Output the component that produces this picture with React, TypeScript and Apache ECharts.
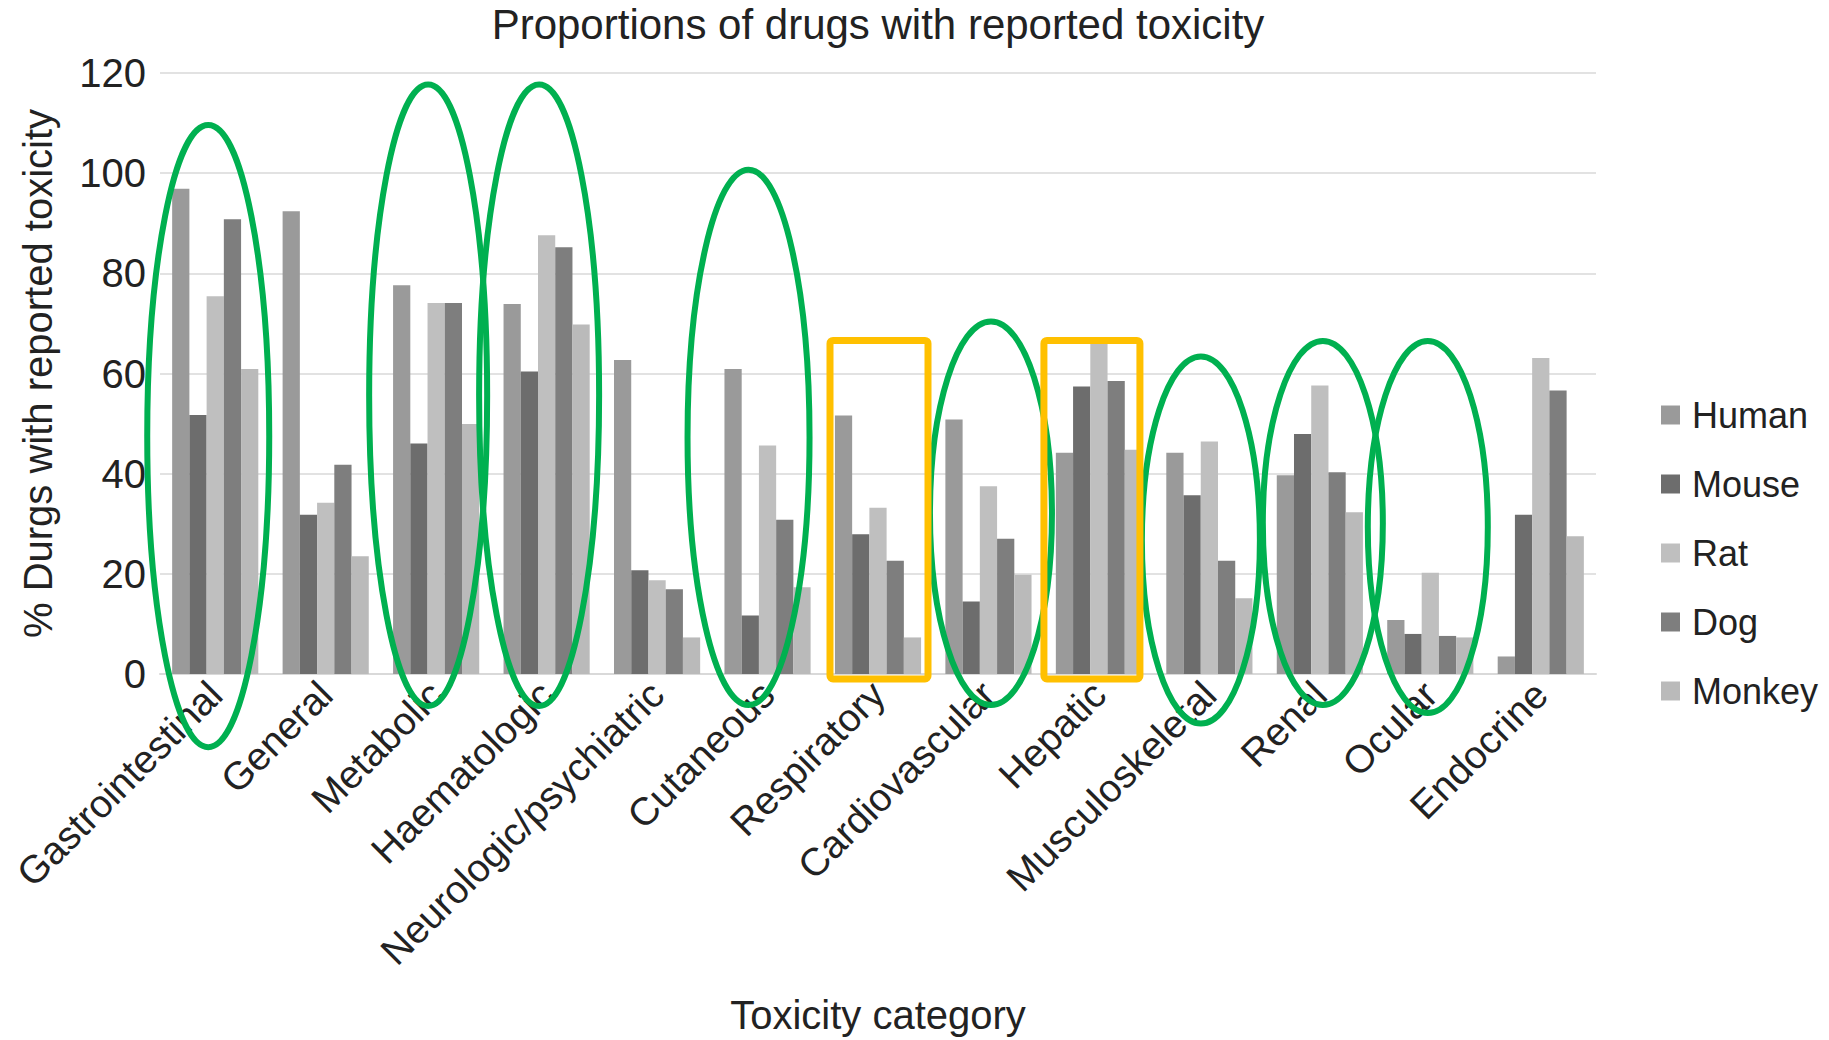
import React, { useEffect, useRef } from "react";
import * as echarts from "echarts";

const categories = [
  "Gastrointestinal", "General", "Metabolic", "Haematologic", "Neurologic/psychiatric",
  "Cutaneous", "Respiratory", "Cardiovascular", "Hepatic", "Musculoskeletal",
  "Renal", "Ocular", "Endocrine",
];
const human = [96.9, 92.4, 77.6, 73.9, 62.7, 60.9, 51.6, 50.8, 44.2, 44.2, 39.7, 10.8, 3.5];
const mouse = [51.7, 31.8, 46.0, 60.4, 20.7, 11.7, 27.9, 14.5, 57.4, 35.7, 47.9, 8.0, 31.8];
const rat = [75.4, 34.2, 74.1, 87.6, 18.7, 45.6, 33.2, 37.5, 66.3, 46.4, 57.6, 20.2, 63.1];
const dog = [90.8, 41.8, 74.1, 85.2, 16.9, 30.8, 22.6, 27.0, 58.5, 22.6, 40.3, 7.6, 56.6];
const monkey = [60.9, 23.5, 49.9, 69.8, 7.3, 17.3, 7.3, 19.8, 44.8, 15.1, 32.3, 7.3, 27.5];
const seriesNames = ["Human", "Mouse", "Rat", "Dog", "Monkey"];
const seriesData = [human, mouse, rat, dog, monkey];
const seriesColors = ["#9a9a9a", "#6d6d6d", "#bfbfbf", "#7e7e7e", "#bababa"];
const yTicks = [0, 20, 40, 60, 80, 100, 120];

// Annotation overlays: [category, xOffset(px), topValue, bottomValue, halfWidth(px)]
const ellipses: [string, number, number, number, number][] = [
  ["Gastrointestinal", -7, 110.2, -15.2, 61],
  ["Metabolic", -8, 118.3, -7.0, 59],
  ["Haematologic", -7.5, 118.3, -7.0, 60],
  ["Cutaneous", -19, 101.3, -6.8, 61],
  ["Cardiovascular", 2.5, 71.0, -6.8, 61],
  ["Musculoskeletal", -8.5, 64.0, -10.5, 59],
  ["Renal", 3, 67.1, -6.8, 60],
  ["Ocular", -2.5, 67.1, -8.4, 60],
];
// [category, leftOffset(px), rightOffset(px), topValue, bottomValue]
const boxes: [string, number, number, number, number][] = [
  ["Respiratory", -48, 50, 66.6, -1.0],
  ["Hepatic", -55, 41, 66.6, -1.0],
];

const FONT = "Liberation Sans, Arial, sans-serif";

export default function App() {
  const ref = useRef<HTMLDivElement>(null);
  useEffect(() => {
    if (!ref.current) return;
    const chart = echarts.init(ref.current, undefined, { renderer: "svg" });
    chart.setOption({
      animation: false,
      backgroundColor: "#ffffff",
      title: {
        text: "Proportions of drugs with reported toxicity",
        left: 878,
        textAlign: "center",
        top: 3,
        padding: 0,
        textStyle: { fontFamily: FONT, fontSize: 42, fontWeight: "normal", color: "#222" },
      },
      legend: {
        orient: "vertical",
        left: 1656,
        top: 392,
        itemWidth: 19,
        itemHeight: 19,
        itemGap: 33,
        icon: "rect",
        data: seriesNames,
        textStyle: { fontFamily: FONT, fontSize: 36, color: "#222", lineHeight: 36, padding: [0, 0, 0, 7] },
      },
      grid: { left: 160, right: 233, top: 73, bottom: 366, containLabel: false },
      xAxis: {
        type: "category",
        data: categories,
        name: "Toxicity category",
        nameLocation: "middle",
        nameGap: 321,
        nameTextStyle: { fontFamily: FONT, fontSize: 40, color: "#222" },
        axisTick: { show: false },
        axisLine: { lineStyle: { color: "#d9d9d9", width: 2 } },
        axisLabel: {
          rotate: 45,
          interval: 0,
          fontFamily: FONT,
          fontSize: 39,
          color: "#222",
          margin: 14,
        },
      },
      yAxis: {
        type: "value",
        min: 0,
        max: 120,
        interval: 20,
        name: "% Durgs with reported toxicity",
        nameLocation: "middle",
        nameGap: 102,
        nameTextStyle: { fontFamily: FONT, fontSize: 40, color: "#222" },
        axisLine: { show: false },
        axisTick: { show: false },
        axisLabel: {
          fontFamily: FONT,
          fontSize: 40,
          color: "#222",
          margin: 14,
          formatter: (v: number) => (yTicks.includes(v) ? String(v) : ""),
        },
        splitLine: { lineStyle: { color: "#e2e2e2", width: 2 } },
      },
      series: seriesNames.map((name, i) => ({
        name,
        type: "bar",
        data: seriesData[i],
        barGap: "0%",
        barCategoryGap: "22%",
        itemStyle: { color: seriesColors[i] },
        emphasis: { disabled: true },
      })),
    });

    const graphics: any[] = [];
    ellipses.forEach(([cat, dx, top, bottom, rx]) => {
      const cx = (chart.convertToPixel({ xAxisIndex: 0 }, cat) as number) + dx;
      const yTop = chart.convertToPixel({ yAxisIndex: 0 }, top) as number;
      const yBot = chart.convertToPixel({ yAxisIndex: 0 }, bottom) as number;
      graphics.push({
        type: "ellipse",
        shape: { cx, cy: (yTop + yBot) / 2, rx, ry: (yBot - yTop) / 2 - 3 },
        style: { fill: "none", stroke: "#00b050", lineWidth: 6 },
        z: 100,
      });
    });
    boxes.forEach(([cat, l, r, top, bottom]) => {
      const c = chart.convertToPixel({ xAxisIndex: 0 }, cat) as number;
      const yTop = chart.convertToPixel({ yAxisIndex: 0 }, top) as number;
      const yBot = chart.convertToPixel({ yAxisIndex: 0 }, bottom) as number;
      graphics.push({
        type: "rect",
        shape: { x: c + l, y: yTop, width: r - l, height: yBot - yTop, r: 3 },
        style: { fill: "none", stroke: "#ffc000", lineWidth: 7 },
        z: 100,
      });
    });
    chart.setOption({ graphic: graphics });

    return () => chart.dispose();
  }, []);
  return (
    <div
      ref={ref}
      style={{ position: "absolute", left: 0, top: 0, width: 1829, height: 1040 }}
    />
  );
}
